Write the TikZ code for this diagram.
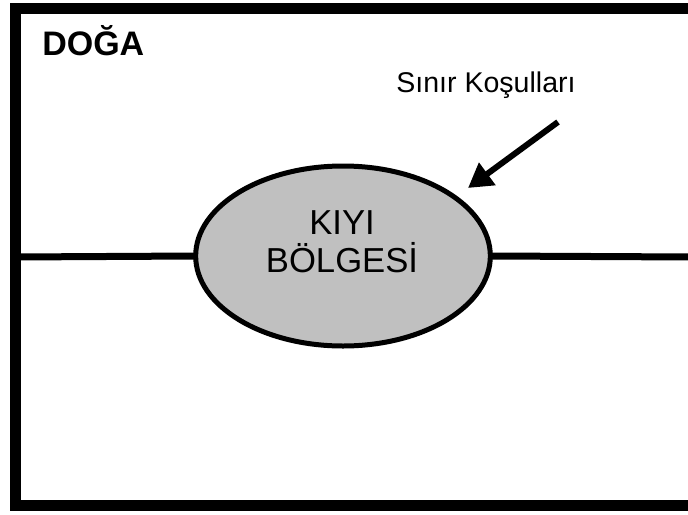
\documentclass[tikz,border=0pt]{standalone}
\usepackage{fontspec}
\setmainfont{Liberation Sans}
\usetikzlibrary{shapes.geometric,arrows.meta}
\definecolor{zonegray}{HTML}{C0C0C0}
\tikzset{
  frame/.style={line width=8.25pt},
  divider/.style={line width=5.25pt},
  zone/.style={ellipse, draw, fill=zonegray, line width=3.75pt, minimum width=221pt, minimum height=135pt, inner sep=0pt, outer sep=0pt},
  bigarrow/.style={line width=4.5pt, -{Triangle[length=18pt,width=20pt]}},
}
\begin{document}
\begin{tikzpicture}[x=0.75pt,y=-0.75pt]
\useasboundingbox (0,0) rectangle (688,514);
\draw[frame] (15.5,8.5) rectangle (693,505.5);
\coordinate (L) at (15.5,257);
\coordinate (R) at (693,257);
\node[zone] (E) at (343,256) {};
\draw[divider] (L) -- (E.west);
\draw[divider] (E.east) -- (R);
\node[align=center, font=\fontsize{26pt}{28.5pt}\selectfont, inner sep=0pt] (T) at (342,241.5) {KIYI\\BÖLGESİ};
\node[anchor=base west, font=\fontsize{25.5pt}{28pt}\selectfont\bfseries, inner sep=0pt] (D) at (42,55) {DOĞA};
\node[anchor=base, font=\fontsize{21.4pt}{24pt}\selectfont, inner sep=0pt] (S) at (486,92) {Sınır Koşulları};
\coordinate (A1) at (558,122);
\coordinate (A2) at (468,188);
\draw[bigarrow] (A1) -- (A2);
\end{tikzpicture}
\end{document}
